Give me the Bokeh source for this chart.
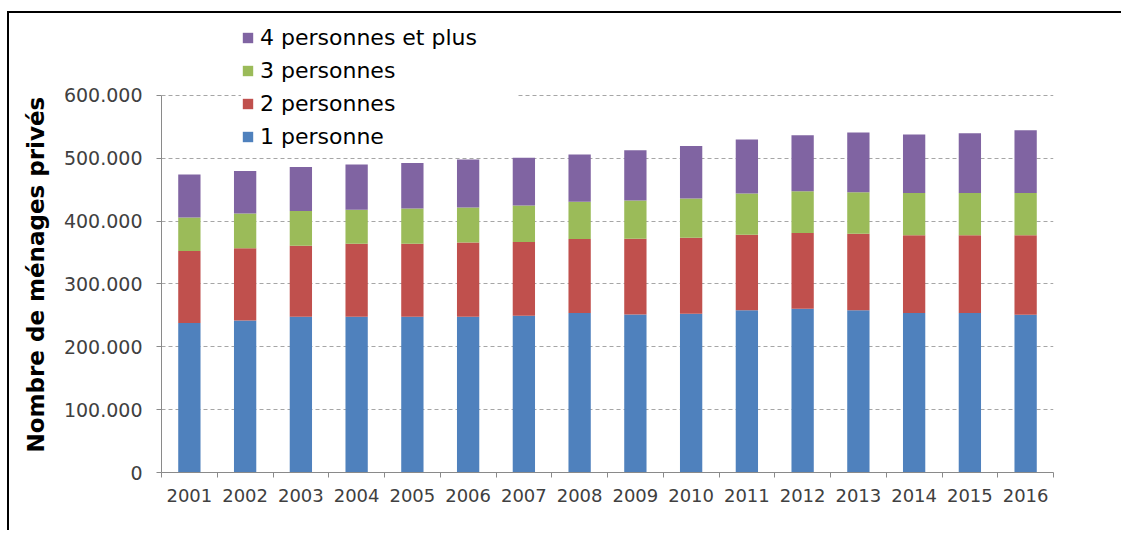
from bokeh.plotting import figure
from bokeh.models import (Range1d, LinearAxis, FixedTicker, Legend,
                          LegendItem, ColumnDataSource, Title)
from bokeh.embed import file_html
from bokeh.resources import INLINE

# ---- data ----
years = ["2001", "2002", "2003", "2004", "2005", "2006", "2007", "2008",
         "2009", "2010", "2011", "2012", "2013", "2014", "2015", "2016"]
one_person = [237700, 242000, 248000, 248000, 248000, 248000, 249500, 253700,
              251600, 252700, 258000, 260700, 258000, 253700, 253700, 251000]
two_persons = [114700, 115000, 113000, 116000, 116000, 118000, 117200, 117800,
               120400, 121000, 120500, 120300, 122000, 123700, 123700, 126400]
three_persons = [53200, 55000, 55000, 54000, 56000, 55500, 58000, 59500,
                 61000, 62100, 65300, 66500, 66000, 67300, 67300, 67300]
four_plus = [68400, 67800, 70000, 72000, 72500, 76500, 76300, 75000,
             79700, 83800, 86200, 89100, 95000, 93300, 95300, 99900]
series_names = ["1 personne", "2 personnes", "3 personnes", "4 personnes et plus"]
series_colors = ["#4F81BD", "#C0504D", "#9BBB59", "#8064A2"]
y_ticks = [0, 100000, 200000, 300000, 400000, 500000, 600000]
y_tick_labels = ["0", "100.000", "200.000", "300.000", "400.000", "500.000", "600.000"]
y_title = "Nombre de ménages privés"

FONT = "DejaVu Sans"
AXIS_COL = "#8a8a8a"
Y_AXIS_MAX = 600000
Y_VIEW_MAX = 724000   # room above the axis for the legend

n = len(years)
xpos = [i + 0.5 for i in range(n)]  # category centres
src = ColumnDataSource(dict(x=xpos, s1=one_person, s2=two_persons,
                            s3=three_persons, s4=four_plus))

p = figure(x_range=Range1d(0, n),
           y_range=Range1d(0, Y_VIEW_MAX),
           width=1114, height=519,
           output_backend="svg", toolbar_location=None,
           x_axis_type=None,
           min_border_left=152, min_border_top=4,
           min_border_right=70, min_border_bottom=60)
p.outline_line_color = None
p.styles = {"border-left": "2px solid black", "border-top": "2px solid black",
            "margin-left": "7px", "margin-top": "11px"}

renderers = p.vbar_stack(["s1", "s2", "s3", "s4"], x="x", width=0.4,
                         color=series_colors, line_color=None, source=src)

# x axis: labels at category centres, tick marks at category boundaries
xaxis = LinearAxis(ticker=FixedTicker(ticks=xpos, minor_ticks=list(range(n + 1))),
                   major_label_overrides={x: y for x, y in zip(xpos, years)})
xaxis.major_tick_line_color = None
xaxis.minor_tick_out = 5
xaxis.minor_tick_in = 0
xaxis.minor_tick_line_color = AXIS_COL
xaxis.axis_line_color = AXIS_COL
xaxis.major_label_text_font = FONT
xaxis.major_label_text_font_size = "18px"
xaxis.major_label_text_color = "#404040"
xaxis.major_label_standoff = 10
p.add_layout(xaxis, "below")

# y axis
yaxis = p.yaxis[0]
yaxis.bounds = (0, Y_AXIS_MAX)
yaxis.ticker = FixedTicker(ticks=y_ticks)
yaxis.major_label_overrides = dict(zip(y_ticks, y_tick_labels))
yaxis.minor_tick_line_color = None
yaxis.major_tick_out = 5
yaxis.major_tick_in = 0
yaxis.major_tick_line_color = AXIS_COL
yaxis.axis_line_color = AXIS_COL
yaxis.major_label_text_font = FONT
yaxis.major_label_text_font_size = "19px"
yaxis.major_label_text_color = "#404040"
yaxis.major_label_standoff = 14

p.add_layout(Title(text=y_title, align="left", offset=20,
                   vertical_align="top",
                   text_font=FONT, text_font_size="23px",
                   text_font_style="bold", text_color="#000000",
                   standoff=20), "left")

p.ygrid.ticker = FixedTicker(ticks=y_ticks)
p.ygrid.grid_line_color = "#a6a6a6"
p.ygrid.grid_line_dash = "4 3"
p.ygrid.grid_line_width = 1

items = [LegendItem(label=name, renderers=[r])
         for name, r in zip(series_names, renderers)][::-1]
legend = Legend(items=items, location=(80, 323))
legend.label_text_font = FONT
legend.label_text_font_size = "22px"
legend.label_text_color = "#000000"
legend.glyph_width = 13
legend.glyph_height = 13
legend.label_height = 23
legend.spacing = 8
legend.padding = 6
legend.margin = 0
legend.label_standoff = 6
legend.label_width = 256
legend.background_fill_color = "white"
legend.background_fill_alpha = 1
legend.border_line_color = None
p.add_layout(legend)

open("out.html", "w").write(file_html(p, INLINE))
